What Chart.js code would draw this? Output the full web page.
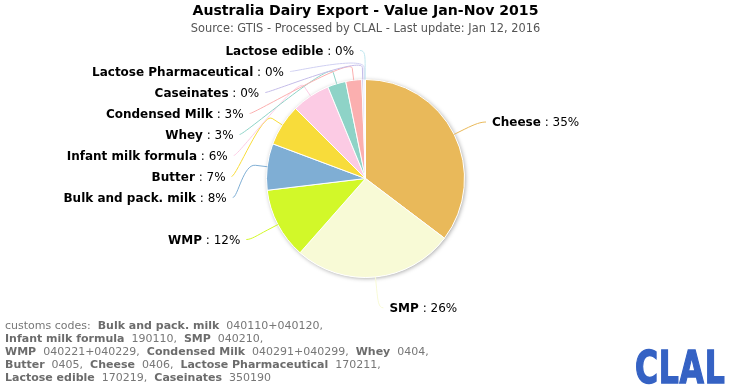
<!DOCTYPE html>
<html lang="en">
<head>
  <meta charset="UTF-8" />
  <title>Australia Dairy Export - Value Jan-Nov 2015</title>
  <script src="https://cdn.jsdelivr.net/npm/chart.js"></script>
  <style>
    body {
      margin: 0;
      background: #fff;
      font-family: "DejaVu Sans", Verdana, sans-serif;
    }
    .wrap {
      position: relative;
      width: 731px;
      height: 390px;
    }
    .title {
      position: absolute;
      left: 0; width: 731px; top: 2px;
      text-align: center;
      font-size: 14.1px;
      font-weight: bold;
      color: #000;
    }
    .subtitle {
      position: absolute;
      left: 0; width: 731px; top: 21px;
      text-align: center;
      font-size: 11.4px;
      color: #555;
    }
    .codes {
      position: absolute;
      left: 5px; top: 319px;
      font-size: 11px;
      line-height: 13px;
      color: #777;
    }
    .codes b { color: #6c6c6c; }
    .logo {
      position: absolute;
      left: 635px; top: 341px;
      font-size: 45px;
      font-weight: bold;
      color: #3562c4;
      -webkit-text-stroke: 1.5px #3562c4;
      transform: scaleX(0.7);
      transform-origin: left top;
      letter-spacing: 1px;
    }
    canvas { position: absolute; left: 0; top: 0; }
  </style>
</head>
<body>
  <div class="wrap">
    <canvas id="dairyChart" width="731" height="390"></canvas>
    <div class="title">Australia Dairy Export - Value Jan-Nov 2015</div>
    <div class="subtitle">Source: GTIS - Processed by CLAL - Last update: Jan 12, 2016</div>
    <div class="codes">
      customs codes:&nbsp; <b>Bulk and pack. milk</b>&nbsp; 040110+040120,<br>
      <b>Infant milk formula</b>&nbsp; 190110,&nbsp; <b>SMP</b>&nbsp; 040210,<br>
      <b>WMP</b>&nbsp; 040221+040229,&nbsp; <b>Condensed Milk</b>&nbsp; 040291+040299,&nbsp; <b>Whey</b>&nbsp; 0404,<br>
      <b>Butter</b>&nbsp; 0405,&nbsp; <b>Cheese</b>&nbsp; 0406,&nbsp; <b>Lactose Pharmaceutical</b>&nbsp; 170211,<br>
      <b>Lactose edible</b>&nbsp; 170219,&nbsp; <b>Caseinates</b>&nbsp; 350190
    </div>
    <div class="logo">CLAL</div>
  </div>

  <script>
    // share of export value (%)
    const products = ["Cheese", "SMP", "WMP", "Bulk and pack. milk", "Butter", "Infant milk formula",
      "Whey", "Condensed Milk", "Caseinates", "Lactose Pharmaceutical", "Lactose edible"];
    const shares = [35.3, 26.2, 11.6, 7.6, 6.8, 6.3, 3.0, 2.6, 0.3, 0.2, 0.1];
    const sliceColors = ["#e9b95a", "#f8fad6", "#d2f829", "#7faed4", "#f8dc3a", "#fccbe4",
      "#8ed3c7", "#fbafaf", "#c4bce8", "#d0d0f2", "#bfe6ee"];

    const FONT = '"DejaVu Sans", Verdana, sans-serif';

    // white disc with a soft shadow under the pie
    const pieShadow = {
      id: 'pieShadow',
      beforeDatasetsDraw(chart) {
        const arc = chart.getDatasetMeta(0).data[0];
        if (!arc) return;
        const ctx = chart.ctx;
        ctx.save();
        ctx.shadowColor = 'rgba(0,0,0,0.35)';
        ctx.shadowBlur = 4;
        ctx.shadowOffsetX = 1;
        ctx.shadowOffsetY = 1;
        ctx.fillStyle = '#fff';
        ctx.beginPath();
        ctx.arc(arc.x, arc.y, arc.outerRadius, 0, Math.PI * 2);
        ctx.fill();
        ctx.restore();
      }
    };

    // outside labels with soft connectors
    const outsideLabels = {
      id: 'outsideLabels',
      afterDatasetsDraw(chart) {
        const meta = chart.getDatasetMeta(0);
        const arcs = meta.data;
        if (!arcs.length) return;
        const ctx = chart.ctx;
        const cx = arcs[0].x, cy = arcs[0].y, r = arcs[0].outerRadius;
        const dist = 30, pad = 5, gap = 6, slot = 21, breakOff = 12;
        const R = r + dist;
        const total = shares.reduce((a, b) => a + b, 0);

        const items = arcs.map((arc, i) => {
          const a = (arc.startAngle + arc.endAngle) / 2;
          return {
            i, a,
            left: a > Math.PI / 2,
            ny: cy + Math.sin(a) * R
          };
        });

        [true, false].forEach(side => {
          const list = items.filter(it => it.left === side).sort((p, q) => p.ny - q.ny);
          const top = cy - R, bottom = cy + R;
          let prev = -Infinity;
          list.forEach(it => {
            it.y = Math.max(it.ny, prev + slot, top);
            prev = it.y;
          });
          let next = Infinity;
          for (let k = list.length - 1; k >= 0; k--) {
            const it = list[k];
            it.y = Math.min(it.y, next - slot, bottom);
            next = it.y;
          }
        });

        items.forEach(it => {
          const yForX = (Math.abs(it.y - (cy - R)) < 0.5 || Math.abs(it.y - (cy + R)) < 0.5) ? it.ny : it.y;
          const s = Math.max(-1, Math.min(1, (yForX - cy) / R));
          const dx = Math.cos(Math.asin(s)) * R + pad;
          it.x = cx + (it.left ? -dx : dx);
        });

        ctx.save();
        items.forEach(it => {
          const color = sliceColors[it.i];
          const tx = cx + Math.cos(it.a) * r, ty = cy + Math.sin(it.a) * r;
          const bx = cx + Math.cos(it.a) * (r + breakOff), by = cy + Math.sin(it.a) * (r + breakOff);
          ctx.strokeStyle = color;
          ctx.lineWidth = 1;
          ctx.beginPath();
          ctx.moveTo(it.x, it.y + 1);
          ctx.bezierCurveTo(it.x + (it.left ? 5 : -5), it.y + 1, 2 * bx - tx, 2 * by - ty, bx, by);
          ctx.lineTo(tx, ty);
          ctx.stroke();

          const name = products[it.i];
          const val = ' : ' + Math.round(shares[it.i] / total * 100) + '%';
          const ty2 = it.y + 2;
          ctx.textBaseline = 'middle';
          ctx.textAlign = 'left';
          ctx.font = 'bold 12px ' + FONT;
          const wName = ctx.measureText(name).width;
          ctx.font = '12px ' + FONT;
          const wVal = ctx.measureText(val).width;
          const x0 = it.left ? it.x - gap - wName - wVal : it.x + gap;
          ctx.fillStyle = '#000';
          ctx.font = 'bold 12px ' + FONT;
          ctx.fillText(name, x0, ty2);
          ctx.font = '12px ' + FONT;
          ctx.fillText(val, x0 + wName, ty2);
        });
        ctx.restore();
      }
    };

    new Chart(document.getElementById('dairyChart'), {
      type: 'pie',
      data: {
        labels: products,
        datasets: [{
          data: shares,
          backgroundColor: sliceColors,
          borderColor: '#ffffff',
          borderWidth: 1,
          hoverOffset: 0
        }]
      },
      options: {
        responsive: false,
        animation: false,
        layout: {
          padding: { top: 79, bottom: 112, left: 266, right: 266 }
        },
        plugins: {
          legend: { display: false },
          tooltip: { enabled: false }
        }
      },
      plugins: [pieShadow, outsideLabels]
    });
  </script>
</body>
</html>
